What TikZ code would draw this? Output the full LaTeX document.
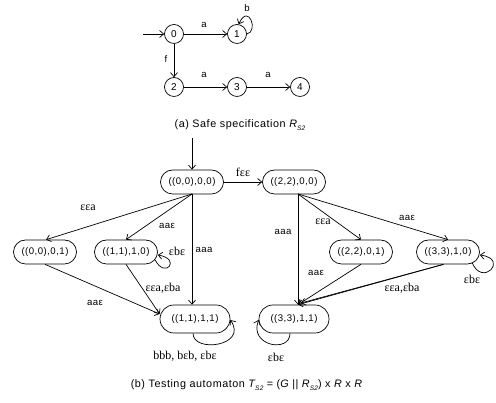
\documentclass[tikz,border=0pt]{standalone}
\usepackage{fontspec}
\setmainfont{Liberation Serif}
\setsansfont{Liberation Sans}
\newfontfamily\nodefont[LetterSpace=5]{Liberation Sans}
\newfontfamily\capfont[LetterSpace=5]{Liberation Sans}
\usetikzlibrary{arrows.meta}
\newcommand{\subsz}[1]{\raisebox{-2.5pt}{\fontsize{6.5}{6.5}\selectfont\itshape #1}}
\begin{document}
\begin{tikzpicture}[x=1pt,y=1pt,
  >={Straight Barb[length=4pt,width=7pt]},
  line width=0.7pt,
  st/.style={draw, circle, minimum size=19pt, inner sep=0pt, line width=0.7pt, font=\nodefont\fontsize{10}{10}\selectfont},
  cs/.style={draw, rectangle, rounded corners=12pt, minimum width=63pt, minimum height=24pt, inner sep=0pt, line width=0.7pt, font=\nodefont\fontsize{9.6}{9.6}\selectfont},
  big/.style={cs, rounded corners=14pt, minimum width=70pt, minimum height=28pt},
  sl/.style={inner sep=0pt, font=\nodefont\fontsize{9.6}{9.6}\selectfont},
  rl/.style={inner sep=0pt, font=\fontsize{12}{12}\selectfont},
  captext/.style={inner sep=0pt, font=\capfont\fontsize{10.8}{10.8}\selectfont}
]
\useasboundingbox (0,0) rectangle (496,403);
% ---------- (a) ----------
\node[st] (n0) at (174,369) {0};
\node[st] (n1) at (237,369) {1};
\node[st] (n2) at (174,316) {2};
\node[st] (n3) at (237,316) {3};
\node[st] (n4) at (300,316) {4};
\coordinate (i0) at (143,369);
\draw[->] (i0) -- (n0);
\draw[->] (n0) -- (n1);
\draw[->] (n0) -- (n2);
\draw[->] (n2) -- (n3);
\draw[->] (n3) -- (n4);
\draw[->] (n1.east) .. controls +(12,2) and +(10,22) .. (n1.80);
\node[sl] (la1) at (204,378) {a};
\node[sl] (lb1) at (247,395) {b};
\node[sl] (lf1) at (166,344) {f};
\node[sl] (la2) at (204,328) {a};
\node[sl] (la3) at (268,328) {a};
\node[captext] (capa) at (240,278) {(a) Safe specification {\itshape R}\subsz{S2}};
% ---------- (b) ----------
\node[cs] (A) at (192,221) {((0,0),0,0)};
\node[cs] (B) at (294,221) {((2,2),0,0)};
\node[cs] (C) at (45,151) {((0,0),0,1)};
\node[cs] (D) at (126,151) {((1,1),1,0)};
\node[cs] (E) at (361,151) {((2,2),0,1)};
\node[cs] (F) at (448,151) {((3,3),1,0)};
\node[big] (G) at (195,84) {((1,1),1,1)};
\node[big] (H) at (294,84) {((3,3),1,1)};
\coordinate (ai) at (192,265);
\coordinate (ao) at (192,209);
\coordinate (bo) at (298,209);
\coordinate (hin) at (bo |- H.north);
\coordinate (hin2) at (301,100);
\draw[->] (ai) -- (A.north);
\draw[->] (A) -- (B);
\draw[->] (ao) -- (C.85);
\draw[->] (ao) -- (D.north);
\draw[->] (ao) -- (ao |- G.north);
\draw[->] (C.south) -- (G.172);
\draw[->] (D.south) -- (G.172);
\draw[->] ([xshift=-2.8pt,yshift=-7.7pt]D.east) .. controls +(10,-20) and +(24,-4) .. ([yshift=-3pt]D.east);
\draw[->] ([xshift=-2pt]G.south) .. controls +(0,-20) and +(18,-26) .. ([yshift=-1pt]G.east);
\draw[->] (bo) -- (E.north);
\draw[->] (bo) -- (F.north);
\draw[->] (bo) -- (hin);
\draw[->] (E.south) -- (hin);
\draw[->] (F.250) -- (hin);
\draw[->] (F.250) -- (hin2);
\draw[->] ([xshift=-8pt,yshift=-10pt]F.east) .. controls +(10,-26) and +(30,-4) .. ([yshift=-3pt]F.east);
\draw[->] ([xshift=-4pt]H.south) .. controls +(0,-20) and +(-10,-26) .. ([yshift=-1pt]H.west);
% labels
\node[rl] (lfee) at (243,231) {fεε};
\node[rl] (leea1) at (88,195) {εεa};
\node[sl] (laae1) at (167,177) {aaε};
\node[sl] (laaa1) at (204,153) {aaa};
\node[rl] (lebe1) at (177,152) {εbε};
\node[sl] (laae2) at (95,100) {aaε};
\node[rl] (leeb1) at (163,115) {εεa,εba};
\node[rl] (lbbb) at (185,47) {bbb, bεb, εbε};
\node[sl] (laaa2) at (283,171) {aaa};
\node[rl] (leea2) at (323,181) {εεa};
\node[sl] (laae3) at (407,185) {aaε};
\node[rl] (lebe2) at (472,124) {εbε};
\node[sl] (laae4) at (316,130) {aaε};
\node[rl] (leeb2) at (402,115) {εεa,εba};
\node[rl] (lebe3) at (276,46) {εbε};
\node[captext] (capb) at (246.5,18) {(b) Testing automaton {\itshape T}\subsz{S2} = ({\itshape G} || {\itshape R}\subsz{S2}) x {\itshape R} x {\itshape R}};
\end{tikzpicture}
\end{document}
